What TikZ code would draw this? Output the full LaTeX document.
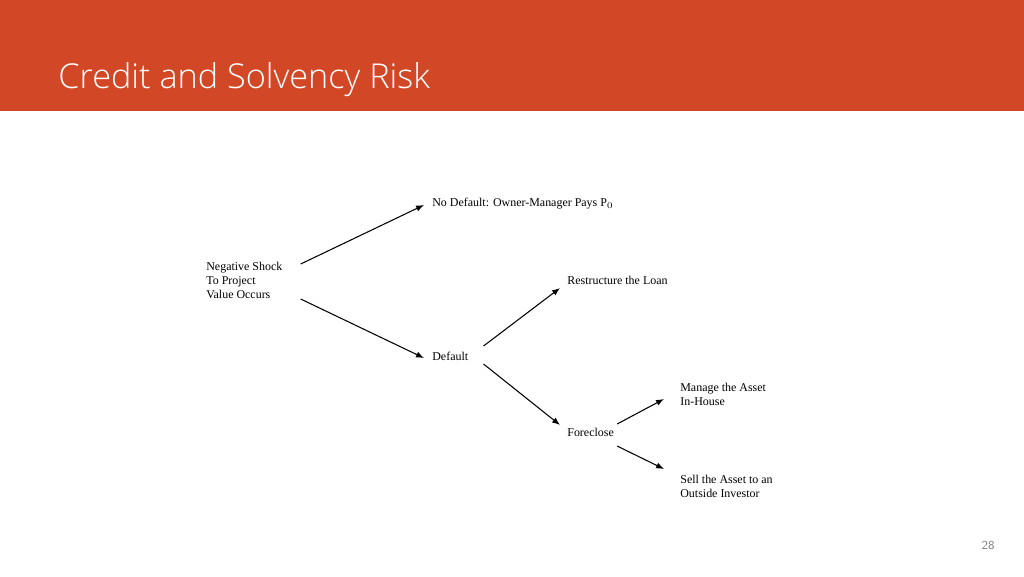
\documentclass[tikz,border=0pt]{standalone}
\usepackage{fontspec}
\setmainfont{Liberation Serif}
\newfontfamily\titlefont{Open Sans Light}
\usetikzlibrary{calc,arrows.meta}
\definecolor{slideorange}{HTML}{D24726}
\tikzset{
    txt/.style={anchor=west,inner sep=0pt,align=left,font=\fontsize{6.8}{8}\selectfont},
    arr/.style={-{Latex[length=4.5pt,width=3.5pt]},line width=0.6pt}
}
\begin{document}
\begin{tikzpicture}[x=0.02cm,y=-0.02cm]
                \useasboundingbox (0,0) rectangle (1024,576);
                \fill[slideorange] (0,0) rectangle (1024,111);
                \node[anchor=base west,inner sep=0pt,text=white,font=\titlefont\fontsize{19.5}{22}\selectfont] (title) at (58,88) {Credit and Solvency Risk};
                \node[anchor=base east,inner sep=0pt,text=gray,font=\sffamily\fontsize{7}{8}\selectfont] (page) at (995,549) {28};

                \node[txt] (shock) at (206,280) {Negative Shock\\To Project\\Value Occurs};
                \node[txt] (nodef) at (432,204) {No Default: Owner-Manager Pays P$_0$};
                \node[txt] (default) at (432,356) {Default};
                \node[txt] (restr) at (567,280) {Restructure the Loan};
                \node[txt] (fore) at (567,432) {Foreclose};
                \node[txt] (manage) at (680,394) {Manage the Asset\\In-House};
                \node[txt] (sell) at (680,486) {Sell the Asset to an\\Outside Investor};

                \draw[arr] ($(shock.east)+(18,-16)$) -- ($(nodef.west)+(-8,1)$);
                \draw[arr] ($(shock.east)+(18,19)$) -- ($(default.west)+(-8,2)$);
                \draw[arr] ($(default.east)+(15,-10)$) -- ($(restr.west)+(-7,8)$);
                \draw[arr] ($(default.east)+(15,8)$) -- ($(fore.west)+(-7,-7)$);
                \draw[arr] ($(fore.east)+(3,-8)$) -- ($(manage.west)+(-16,5)$);
                \draw[arr] ($(fore.east)+(3,14)$) -- ($(sell.west)+(-16,-17)$);
            \end{tikzpicture}
\end{document}
